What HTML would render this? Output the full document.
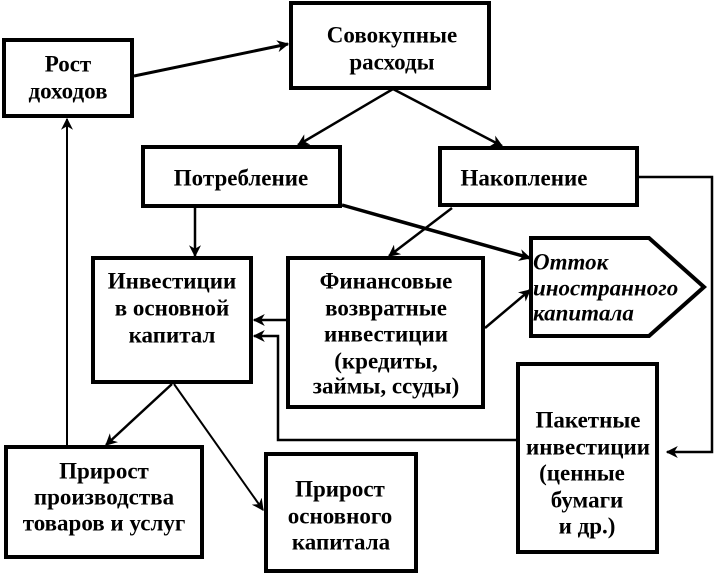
<!DOCTYPE html>
<html><head><meta charset="utf-8"><style>
html,body{margin:0;padding:0;background:#fff;}
svg{display:block;}
text{font-family:"Liberation Serif",serif;font-weight:bold;font-size:23px;fill:#000;dominant-baseline:central;text-anchor:middle;}
</style></head><body>
<svg width="714" height="574" viewBox="0 0 714 574" xmlns="http://www.w3.org/2000/svg">
<defs>
<marker id="b" viewBox="0 0 10 10" refX="9" refY="5" markerWidth="12" markerHeight="12" orient="auto" markerUnits="userSpaceOnUse"><path d="M0,0 L10,5 L0,10 L3,5 z" fill="#000"/></marker>
</defs>
<g fill="#fff" stroke="#000" stroke-width="4">
<rect x="4" y="40" width="128" height="76"/>
<rect x="291" y="3" width="198" height="85"/>
<rect x="143" y="147" width="197" height="59"/>
<rect x="440" y="148" width="197" height="57"/>
<polygon points="531,238 649,238 704,287 649,336 531,336"/>
<rect x="93" y="258" width="158" height="124"/>
<rect x="288" y="258" width="195" height="149"/>
<rect x="518" y="364" width="139" height="188"/>
<rect x="6" y="447" width="196" height="110"/>
<rect x="266" y="454" width="150" height="117"/>
</g>
<g stroke="#000" fill="none" stroke-width="2.5">
<line x1="134" y1="76" x2="288" y2="44" stroke-width="3" marker-end="url(#b)"/>
<line x1="393" y1="89" x2="298" y2="145" marker-end="url(#b)"/>
<line x1="393" y1="89" x2="502" y2="146" marker-end="url(#b)"/>
<line x1="195" y1="208" x2="195" y2="256" marker-end="url(#b)"/>
<line x1="342" y1="205" x2="530" y2="258" stroke-width="3.5" marker-end="url(#b)"/>
<line x1="452" y1="208" x2="389" y2="256" marker-end="url(#b)"/>
<polyline points="638,177 712,177 712,452 667,452" marker-end="url(#b)"/>
<line x1="485" y1="328" x2="530" y2="290" marker-end="url(#b)"/>
<line x1="287" y1="320" x2="254" y2="320" marker-end="url(#b)"/>
<polyline points="517,440 278,440 278,336 254,336" marker-end="url(#b)"/>
<line x1="172" y1="384" x2="106" y2="445" marker-end="url(#b)"/>
<line x1="174" y1="384" x2="263" y2="510" stroke-width="2" marker-end="url(#b)"/>
<line x1="67" y1="446" x2="67" y2="119" stroke-width="2" marker-end="url(#b)"/>
</g>
<text x="68" y="64">Рост</text><text x="68" y="91">доходов</text>
<text x="392" y="35">Совокупные</text><text x="392" y="62">расходы</text>
<text x="241" y="178">Потребление</text>
<text x="524" y="178">Накопление</text>
<g style="font-style:italic"><text x="533" y="262" style="text-anchor:start">Отток</text><text x="533" y="288" style="text-anchor:start">иностранного</text><text x="533" y="313" style="text-anchor:start">капитала</text></g>
<text x="172" y="281">Инвестиции</text><text x="172" y="308">в основной</text><text x="172" y="335">капитал</text>
<text x="386" y="281">Финансовые</text><text x="386" y="308">возвратные</text><text x="386" y="334">инвестиции</text><text x="386" y="361">(кредиты,</text><text x="386" y="386">займы, ссуды)</text>
<text x="588" y="420">Пакетные</text><text x="588" y="447">инвестиции</text><text x="582" y="473">(ценные</text><text x="587" y="500">бумаги</text><text x="587" y="526">и др.)</text>
<text x="104" y="471">Прирост</text><text x="104" y="497">производства</text><text x="104" y="523">товаров и услуг</text>
<text x="340" y="489">Прирост</text><text x="340" y="516">основного</text><text x="341" y="542">капитала</text>
</svg>
</body></html>
